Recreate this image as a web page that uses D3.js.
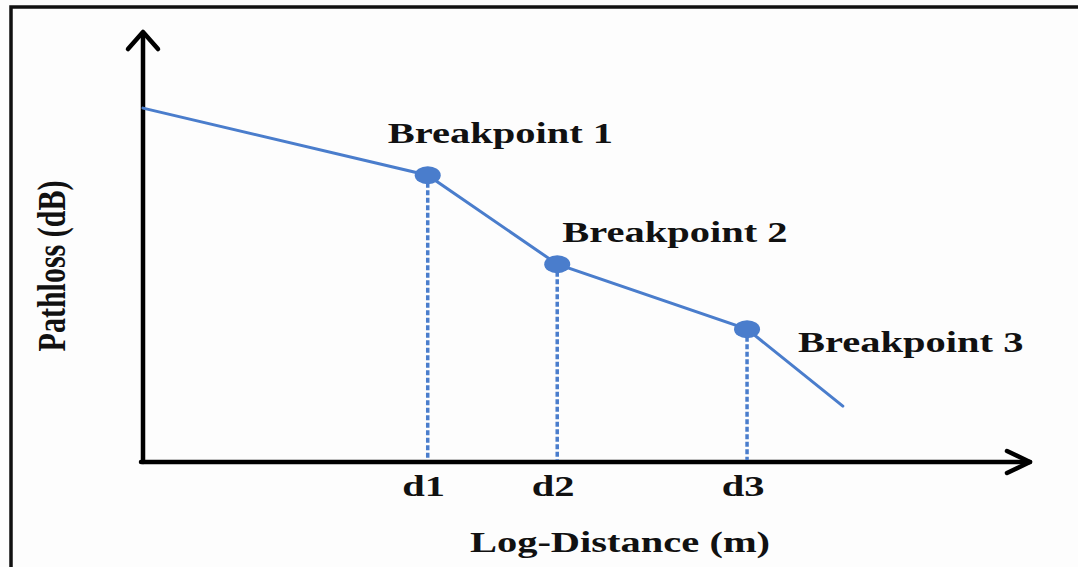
<!DOCTYPE html>
<html lang="en">
<head>
<meta charset="utf-8">
<title>Pathloss vs Log-Distance</title>
<script src="https://d3js.org/d3.v7.min.js"></script>
<style>
  body { margin: 0; background: #fdfdfd; }
  svg text { font-family: "Liberation Serif", "Times New Roman", serif; font-weight: bold; fill: #111; }
</style>
</head>
<body>
<div id="chart"></div>
<script>
// piecewise pathloss model, arbitrary units
var pointX = [0, 3.21, 4.67, 6.81, 7.89];
var pointY = [8.23, 6.67, 4.60, 3.09, 1.30];
var breakIdx = [1, 2, 3];
var breakLabels = ["Breakpoint 1", "Breakpoint 2", "Breakpoint 3"];
var tickLabels = ["d1", "d2", "d3"];
var xTitle = "Log-Distance (m)";
var yTitle = "Pathloss (dB)";

var W = 1078, H = 567;
var ox = 143, oy = 462;          // axis origin
var stretch = 1.35;              // source picture is stretched sideways
var blue = "#4a7dcc";

// label offsets from their point (px): [dx of text start, dy of baseline]
var labelOffsets = [[-40, -32], [5, -22], [51, 23]];

var svg = d3.select("#chart").append("svg")
  .attr("width", W).attr("height", H);

var x = d3.scaleLinear().domain([0, 10]).range([ox, 1030]);
var y = d3.scaleLinear().domain([0, 10]).range([oy, 32]);

// frame
svg.append("path")
  .attr("d", "M11," + H + "V7H" + W)
  .attr("fill", "none").attr("stroke", "#111").attr("stroke-width", 3.5);

// axes
var ax = svg.append("g").attr("stroke", "#000").attr("stroke-width", 4.5)
  .attr("fill", "none").attr("stroke-linecap", "round").attr("stroke-linejoin", "round");
ax.append("line").attr("x1", ox).attr("y1", oy).attr("x2", ox).attr("y2", y(10) + 2);
ax.append("path").attr("d", d3.line()([[ox - 15, y(10) + 17], [ox, y(10)], [ox + 15, y(10) + 17]]));
ax.append("line").attr("x1", ox - 2).attr("y1", oy).attr("x2", x(10)).attr("y2", oy);
ax.append("path").attr("d", d3.line()([[x(10) - 23, oy - 11], [x(10), oy], [x(10) - 23, oy + 11]]));

// dashed drop lines
svg.append("g").selectAll("line")
  .data(breakIdx).enter().append("line")
  .attr("x1", function(i) { return x(pointX[i]); })
  .attr("x2", function(i) { return x(pointX[i]); })
  .attr("y1", function(i) { return y(pointY[i]); })
  .attr("y2", oy - 2)
  .attr("stroke", blue).attr("stroke-width", 3.5)
  .attr("stroke-dasharray", "5,2.5");

// pathloss line
var pts = pointX.map(function(d, i) { return [x(d), y(pointY[i])]; });
svg.append("path")
  .attr("d", d3.line()(pts))
  .attr("fill", "none").attr("stroke", blue).attr("stroke-width", 3)
  .attr("stroke-linecap", "round");

// breakpoint markers
svg.append("g").selectAll("ellipse")
  .data(breakIdx).enter().append("ellipse")
  .attr("cx", function(i) { return x(pointX[i]); })
  .attr("cy", function(i) { return y(pointY[i]); })
  .attr("rx", 13).attr("ry", 9)
  .attr("fill", blue);

function stretchedText(sel, tx, ty, txt, anchor, rot) {
  sel.append("text")
    .attr("transform", "translate(" + tx + "," + ty + ") scale(" + stretch + ",1)" + (rot ? " rotate(-90)" : ""))
    .attr("text-anchor", anchor)
    .attr("font-size", 30)
    .text(txt);
}

// breakpoint labels
breakIdx.forEach(function(p, k) {
  stretchedText(svg, x(pointX[p]) + labelOffsets[k][0], y(pointY[p]) + labelOffsets[k][1], breakLabels[k], "start");
});

// tick labels
breakIdx.forEach(function(p, k) {
  stretchedText(svg, x(pointX[p]) - 4, oy + 34, tickLabels[k], "middle");
});

// axis titles
stretchedText(svg, 620, 552, xTitle, "middle");
stretchedText(svg, 65, 266, yTitle, "middle", true);
</script>
</body>
</html>
